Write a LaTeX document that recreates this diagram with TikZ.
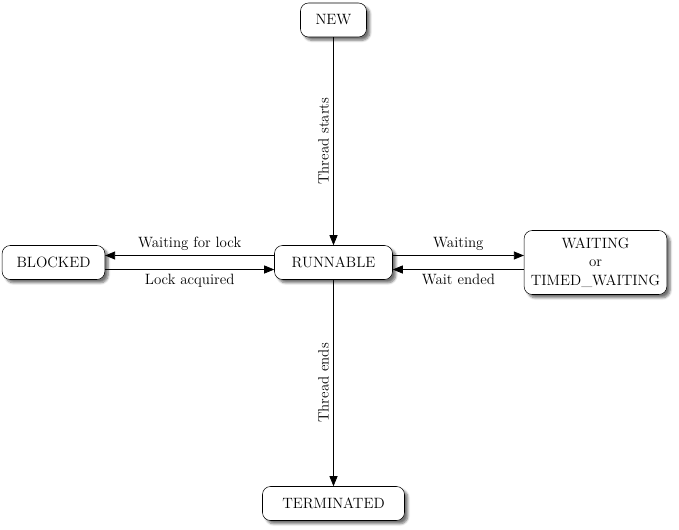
\documentclass[tikz,border=0pt]{standalone}
\usetikzlibrary{arrows.meta,shadows.blur}

\begin{document}
\begin{tikzpicture}[x=0.75pt,y=-0.75pt,
  font=\fontsize{11.2pt}{14pt}\selectfont,
  state/.style={draw,fill=white,rounded corners=6pt,minimum height=25.5pt,inner xsep=3pt,
    blur shadow={shadow xshift=2.5pt,shadow yshift=-2.5pt,shadow blur steps=6,shadow opacity=55}},
  trans/.style={-{Triangle[length=7.5pt,width=6pt]},line width=0.6pt}]
  \useasboundingbox (0,0) rectangle (679,529);
  \node[state,minimum width=49.5pt] (new) at (333.5,20) {NEW};
  \node[state,minimum width=88.5pt] (runnable) at (333.5,262.5) {RUNNABLE};
  \node[state,minimum width=77pt] (blocked) at (53.5,262.5) {BLOCKED};
  \node[state,minimum width=107pt,minimum height=48pt,align=center] (waiting) at (595.5,262.5)
    {WAITING\\or\\TIMED\_WAITING};
  \node[state,minimum width=106.5pt] (terminated) at (333.5,503.5) {TERMINATED};
  \draw[trans] (new) -- node[midway,rotate=90,anchor=south]{Thread starts} (runnable);
  \draw[trans] ([yshift=5.25pt]runnable.west) -- node[above]{Waiting for lock} ([yshift=5.25pt]blocked.east);
  \draw[trans] ([yshift=-5.25pt]blocked.east) -- node[below]{Lock acquired} ([yshift=-5.25pt]runnable.west);
  \draw[trans] ([yshift=5.25pt]runnable.east) -- node[above]{Waiting} ([yshift=5.25pt]waiting.west);
  \draw[trans] ([yshift=-5.25pt]waiting.west) -- node[below]{Wait ended} ([yshift=-5.25pt]runnable.east);
  \draw[trans] (runnable) -- node[midway,rotate=90,anchor=south]{Thread ends} (terminated);
\end{tikzpicture}
\end{document}
